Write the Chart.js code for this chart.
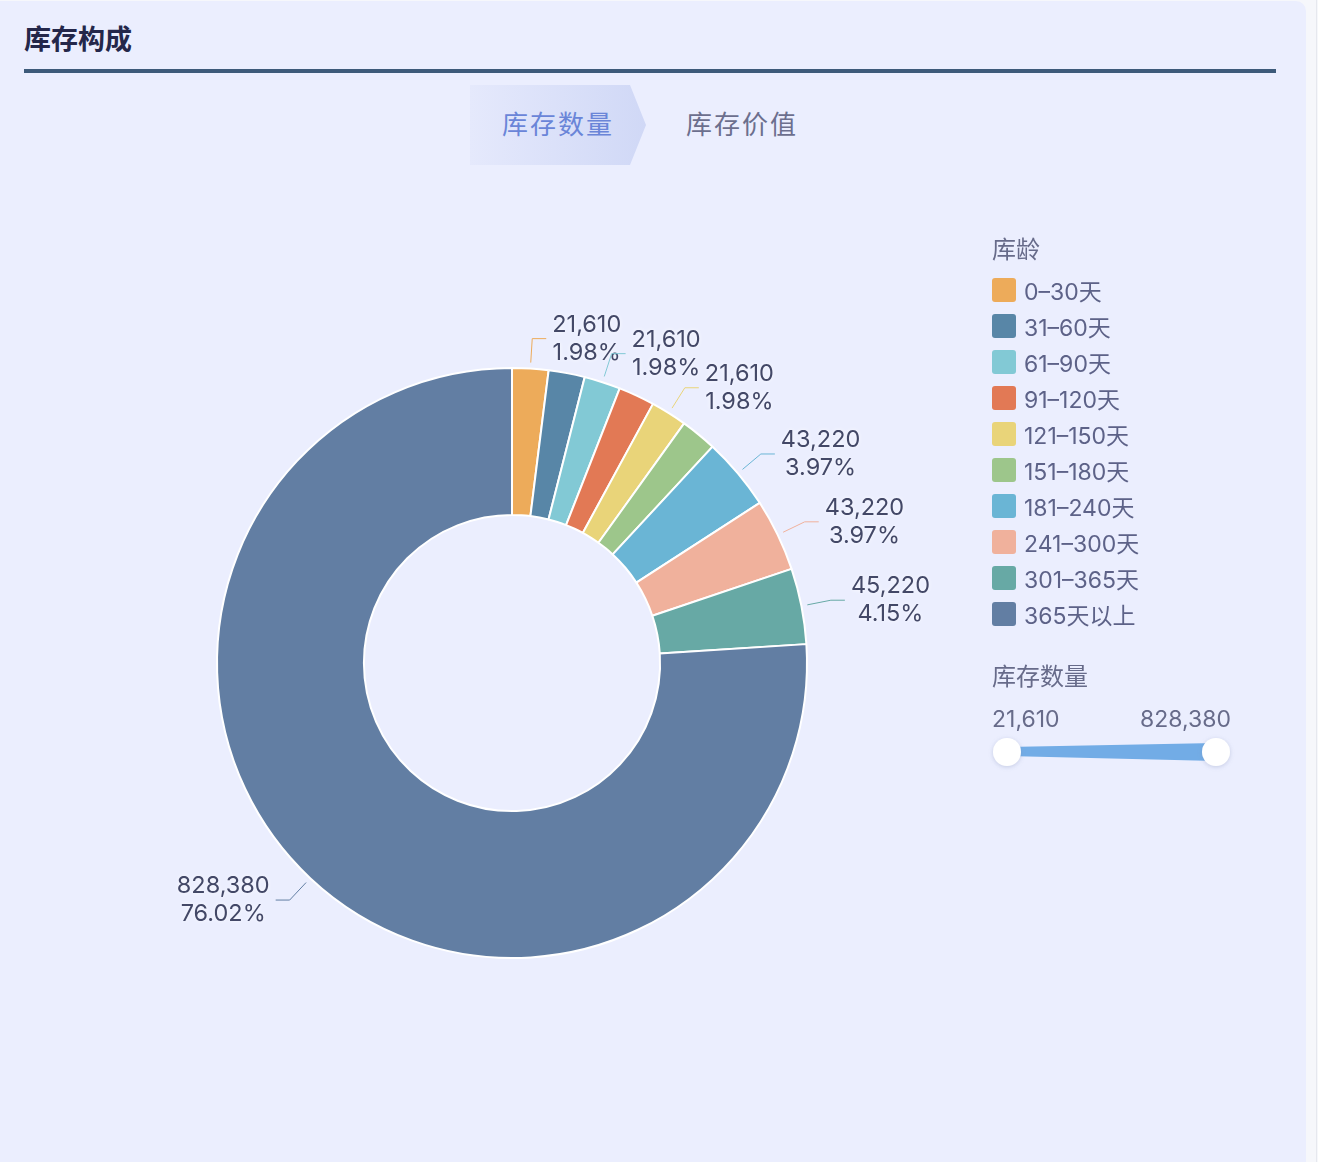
<!DOCTYPE html>
<html lang="zh-CN">
<head>
<meta charset="utf-8">
<title>库存构成</title>
<script src="https://cdn.jsdelivr.net/npm/chart.js@4.4.1/dist/chart.umd.min.js"></script>
<style>
    html, body {
        margin: 0;
        padding: 0;
        width: 1318px;
        height: 1162px;
        overflow: hidden;
        background: #f6f7fb;
        font-family: Inter, "Noto Sans CJK SC", sans-serif;
    }
    .card {
        position: absolute;
        left: 0;
        top: 1px;
        width: 1306px;
        height: 1180px;
        background: #ebeefe;
        border-radius: 0 10px 0 0;
    }
    .edge {
        position: absolute;
        left: 1316px;
        top: 0;
        width: 1px;
        height: 1162px;
        background: #e6e8ee;
    }
    .title {
        position: absolute;
        left: 24px;
        top: 19px;
        font-size: 27px;
        line-height: 38px;
        font-weight: 700;
        color: #24274a;
        font-family: "Noto Sans CJK SC", sans-serif;
    }
    .rule {
        position: absolute;
        left: 24px;
        top: 69px;
        width: 1252px;
        height: 4px;
        background: #3d5a7a;
    }
    .tab-bg {
        position: absolute;
        left: 470px;
        top: 85px;
        width: 176px;
        height: 80px;
        background: linear-gradient(90deg, #e5e9fc 0%, #d0d8f6 100%);
        clip-path: polygon(0 0, 160px 0, 176px 50%, 160px 100%, 0 100%);
    }
    .tab {
        position: absolute;
        top: 103px;
        font-size: 26px;
        line-height: 40px;
        letter-spacing: 2px;
        font-family: "Noto Sans CJK SC", sans-serif;
    }
    #chart {
        position: absolute;
        left: 0;
        top: 180px;
    }
    .legend {
        position: absolute;
        left: 992px;
        top: 230px;
        color: #5d6288;
        font-size: 23px;
    }
    .legend-title {
        height: 36px;
        line-height: 36px;
        font-size: 24px;
        color: #676b8a;
        font-family: "Noto Sans CJK SC", sans-serif;
        margin-bottom: 6px;
    }
    .legend-item {
        height: 36px;
        display: flex;
        align-items: center;
    }
    .swatch {
        width: 24px;
        height: 24px;
        border-radius: 3px;
        margin-right: 8px;
    }
    .vm-title {
        position: absolute;
        left: 992px;
        top: 656px;
        font-size: 24px;
        line-height: 38px;
        color: #676b8a;
        font-family: "Noto Sans CJK SC", sans-serif;
    }
    .vm-val {
        position: absolute;
        top: 703px;
        font-size: 23px;
        line-height: 32px;
        color: #676b8a;
    }
    #slider {
        position: absolute;
        left: 980px;
        top: 725px;
    }
</style>
</head>
<body>
<div class="card"></div>
<div class="edge"></div>
<div class="title">库存构成</div>
<div class="rule"></div>
<div class="tab-bg"></div>
<div class="tab" style="left:502px;color:#6a85d8;">库存数量</div>
<div class="tab" style="left:686px;color:#6c6f8e;">库存价值</div>

<canvas id="chart" width="1024" height="966"></canvas>

<div class="legend" id="legend"></div>
<div class="vm-title">库存数量</div>
<div class="vm-val" id="vm-min" style="left:992px;"></div>
<div class="vm-val" id="vm-max" style="right:87px;"></div>
<svg id="slider" width="270" height="56" viewBox="980 725 270 56">
    <defs>
        <filter id="sh" x="-50%" y="-50%" width="200%" height="200%">
            <feDropShadow dx="0" dy="1" stdDeviation="2" flood-color="#7d8bb3" flood-opacity="0.35"/>
        </filter>
    </defs>
    <polygon points="1007,747 1216,743 1216,761 1007,756" fill="#72ace6"/>
    <circle cx="1007" cy="752" r="14" fill="#ffffff" filter="url(#sh)"/>
    <circle cx="1216" cy="752" r="14" fill="#ffffff" filter="url(#sh)"/>
</svg>

<script>
// 库龄分类
const categories = ['0–30天', '31–60天', '61–90天', '91–120天', '121–150天', '151–180天', '181–240天', '241–300天', '301–365天', '365天以上'];
// 库存数量
const quantities = [21610, 21610, 21610, 21610, 21610, 21610, 43220, 43220, 45220, 828380];
// 颜色
const colors = ['#edab5a', '#5886a7', '#82c9d5', '#e27955', '#e9d479', '#9dc68b', '#6ab5d5', '#f0b19c', '#67a9a5', '#627ea3'];

const fmt = (v) => v.toLocaleString('en-US');
const total = quantities.reduce((a, b) => a + b, 0);

// Legenda
const legendEl = document.getElementById('legend');
legendEl.innerHTML = '<div class="legend-title">库龄</div>' + categories.map((c, i) =>
    `<div class="legend-item"><span class="swatch" style="background:${colors[i]}"></span>${c}</div>`
).join('');

document.getElementById('vm-min').textContent = fmt(Math.min(...quantities));
document.getElementById('vm-max').textContent = fmt(Math.max(...quantities));

// Rótulos externos com linhas guia, escondendo os que se sobrepõem
const outerLabels = {
    id: 'outerLabels',
    afterDatasetsDraw(chart) {
        const ctx = chart.ctx;
        const meta = chart.getDatasetMeta(0);
        const placed = [];
        ctx.save();
        ctx.font = '23.5px Inter, "Noto Sans CJK SC", sans-serif';
        meta.data.forEach((arc, i) => {
            const { x, y, startAngle, endAngle, outerRadius } = arc.getProps(['x', 'y', 'startAngle', 'endAngle', 'outerRadius'], true);
            const mid = (startAngle + endAngle) / 2;
            const cos = Math.cos(mid), sin = Math.sin(mid);
            const right = cos >= 0;
            const p0 = { x: x + cos * (outerRadius + 6), y: y + sin * (outerRadius + 6) };
            const p1 = { x: x + cos * (outerRadius + 30), y: y + sin * (outerRadius + 30) };
            const p2 = { x: p1.x + (right ? 14 : -14), y: p1.y };

            const line1 = fmt(quantities[i]);
            const line2 = (quantities[i] / total * 100).toFixed(2) + '%';
            const w = Math.max(ctx.measureText(line1).width, ctx.measureText(line2).width);
            const left = right ? p2.x + 6 : p2.x - 6 - w;
            const box = { l: left, r: left + w, t: p2.y - 28, b: p2.y + 28 };
            const hit = placed.some(o => box.l < o.r && box.r > o.l && box.t < o.b && box.b > o.t);
            if (hit) return;
            placed.push(box);

            ctx.strokeStyle = colors[i];
            ctx.lineWidth = 1;
            ctx.beginPath();
            ctx.moveTo(p0.x, p0.y);
            ctx.lineTo(p1.x, p1.y);
            ctx.lineTo(p2.x, p2.y);
            ctx.stroke();

            ctx.fillStyle = '#434867';
            ctx.textAlign = 'center';
            ctx.textBaseline = 'middle';
            ctx.shadowColor = 'rgba(255, 255, 255, 0.9)';
            ctx.shadowBlur = 4;
            const cx = left + w / 2;
            ctx.fillText(line1, cx, p2.y - 14);
            ctx.fillText(line2, cx, p2.y + 14);
            ctx.shadowBlur = 0;
        });
        ctx.restore();
    }
};

new Chart(document.getElementById('chart'), {
    type: 'doughnut',
    data: {
        labels: categories,
        datasets: [{
            data: quantities,
            backgroundColor: colors,
            borderColor: '#ffffff',
            borderWidth: 2,
            hoverOffset: 0
        }]
    },
    options: {
        responsive: false,
        animation: false,
        radius: 295,
        cutout: '50.2%',
        plugins: {
            legend: { display: false },
            tooltip: { enabled: false }
        }
    },
    plugins: [outerLabels]
});
</script>
</body>
</html>
